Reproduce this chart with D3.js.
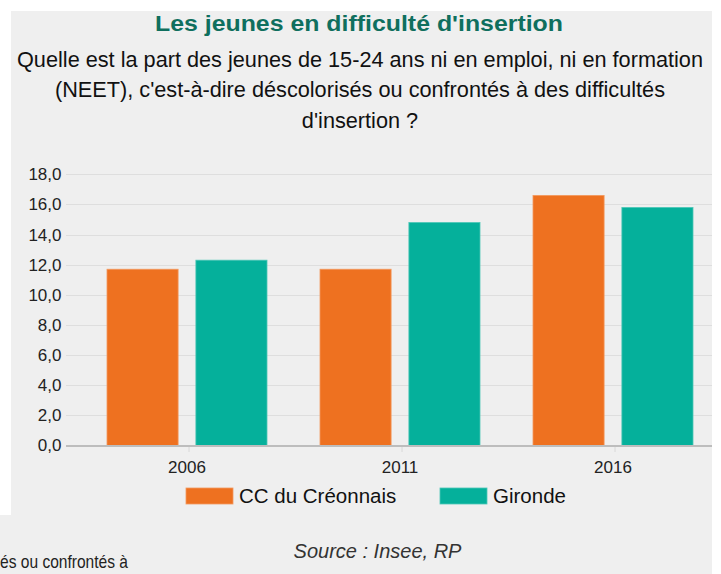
<!DOCTYPE html>
<html>
<head>
<meta charset="utf-8">
<script src="https://cdn.jsdelivr.net/npm/d3@7"></script>
<style>
  html, body { margin: 0; padding: 0; background: #fff; }
  svg { display: block; }
  text { font-family: "Liberation Sans", Arial, sans-serif; }
</style>
</head>
<body>
<div id="chart"></div>
<script>
const years = ["2006", "2011", "2016"];
const seriesNames = ["CC du Créonnais", "Gironde"];
const creonnais = [11.7, 11.7, 16.6];
const gironde = [12.3, 14.8, 15.8];
const yTicks = [0, 2, 4, 6, 8, 10, 12, 14, 16, 18];
const colors = ["#ee7120", "#05b09b"];

const title = "Les jeunes en difficulté d'insertion";
const subtitle = [
  "Quelle est la part des jeunes de 15-24 ans ni en emploi, ni en formation",
  "(NEET), c'est-à-dire déscolorisés ou confrontés à des difficultés",
  "d'insertion ?",
];
const source = "Source : Insee, RP";

const width = 721,
  height = 574;

const svg = d3
  .select("#chart")
  .append("svg")
  .attr("width", width)
  .attr("height", height);

// background panel (cropped screenshot look)
svg.append("rect").attr("x", 0).attr("y", 11).attr("width", 712).attr("height", height - 11).attr("fill", "#efefef");
svg.append("rect").attr("x", 0).attr("y", 11).attr("width", 11).attr("height", 504).attr("fill", "#fff");

// titles
svg
  .append("text")
  .attr("x", 359)
  .attr("y", 31)
  .attr("text-anchor", "middle")
  .attr("font-weight", "bold")
  .attr("font-size", 22)
  .attr("textLength", 408)
  .attr("lengthAdjust", "spacingAndGlyphs")
  .attr("fill", "#0f6f5e")
  .text(title);

svg
  .selectAll("text.sub")
  .data(subtitle)
  .join("text")
  .attr("class", "sub")
  .attr("x", 360)
  .attr("y", (d, i) => 66.5 + i * 30.5)
  .attr("text-anchor", "middle")
  .attr("font-size", 21.7)
  .attr("fill", "#111")
  .text((d) => d);

// scales
const y = d3.scaleLinear().domain([0, 18]).range([445.5, 174.3]);
const x0 = d3.scaleBand().domain(years).range([80.5, 719.5]);
const x1 = d3
  .scaleBand()
  .domain(seriesNames)
  .range([26.5, x0.bandwidth() - 26.5])
  .paddingInner(0.2);

const plot = svg.append("g");

// grid
plot
  .selectAll("line.grid")
  .data(yTicks.filter((t) => t > 0))
  .join("line")
  .attr("class", "grid")
  .attr("x1", 66)
  .attr("x2", 712)
  .attr("y1", (d) => Math.round(y(d)) + 0.5)
  .attr("y2", (d) => Math.round(y(d)) + 0.5)
  .attr("stroke", "#dedede")
  .attr("stroke-width", 1);

// y labels
const fmt = (v) => d3.format(".1f")(v).replace(".", ",");
plot
  .selectAll("text.ylab")
  .data(yTicks)
  .join("text")
  .attr("class", "ylab")
  .attr("x", 61.5)
  .attr("y", (d) => y(d))
  .attr("dy", "0.35em")
  .attr("text-anchor", "end")
  .attr("font-size", 17)
  .attr("fill", "#222")
  .text(fmt);

// bars
const rows = years.map((yr, i) => ({ year: yr, values: [creonnais[i], gironde[i]] }));
const groups = plot
  .selectAll("g.grp")
  .data(rows)
  .join("g")
  .attr("class", "grp")
  .attr("transform", (d) => `translate(${x0(d.year)},0)`);

groups
  .selectAll("rect")
  .data((d) => d.values.map((v, j) => ({ name: seriesNames[j], value: v, j })))
  .join("rect")
  .attr("x", (d) => x1(d.name))
  .attr("width", x1.bandwidth())
  .attr("y", (d) => y(d.value))
  .attr("height", (d) => y(0) - y(d.value))
  .attr("fill", (d) => colors[d.j])
  .attr("stroke", (d) => (d.j === 0 ? "#f39a5f" : "#4cc7b7"))
  .attr("stroke-width", 0.8);

// baseline + ticks
plot
  .append("line")
  .attr("x1", 66)
  .attr("x2", 712)
  .attr("y1", 446)
  .attr("y2", 446)
  .attr("stroke", "#bdbdbd")
  .attr("stroke-width", 2);

plot
  .selectAll("line.tick")
  .data(years)
  .join("line")
  .attr("class", "tick")
  .attr("x1", (d) => x0(d) + x0.bandwidth() / 2 + 2)
  .attr("x2", (d) => x0(d) + x0.bandwidth() / 2 + 2)
  .attr("y1", 447)
  .attr("y2", 452)
  .attr("stroke", "#d8d8d8");

plot
  .selectAll("text.xlab")
  .data(years)
  .join("text")
  .attr("class", "xlab")
  .attr("x", (d) => x0(d) + x0.bandwidth() / 2)
  .attr("y", 473)
  .attr("text-anchor", "middle")
  .attr("font-size", 17)
  .attr("fill", "#222")
  .text((d) => d);

// legend
const legendX = [186, 440];
const legend = svg
  .selectAll("g.leg")
  .data(seriesNames)
  .join("g")
  .attr("class", "leg")
  .attr("transform", (d, i) => `translate(${legendX[i]},488)`);

legend
  .append("rect")
  .attr("width", 47)
  .attr("height", 16)
  .attr("fill", (d, i) => colors[i])
  .attr("stroke", (d, i) => (i === 0 ? "#f39a5f" : "#4cc7b7"))
  .attr("stroke-width", 0.8);

legend
  .append("text")
  .attr("x", 53)
  .attr("y", 15)
  .attr("font-size", 20.5)
  .attr("fill", "#111")
  .text((d) => d);

// source
svg
  .append("text")
  .attr("x", 377.5)
  .attr("y", 558)
  .attr("text-anchor", "middle")
  .attr("font-style", "italic")
  .attr("font-size", 20)
  .attr("fill", "#333")
  .text(source);

// clipped fragment at bottom-left
svg
  .append("text")
  .attr("x", 0)
  .attr("y", 568)
  .attr("font-size", 19)
  .attr("textLength", 128)
  .attr("lengthAdjust", "spacingAndGlyphs")
  .attr("fill", "#222")
  .text("és ou confrontés à");
</script>
</body>
</html>
